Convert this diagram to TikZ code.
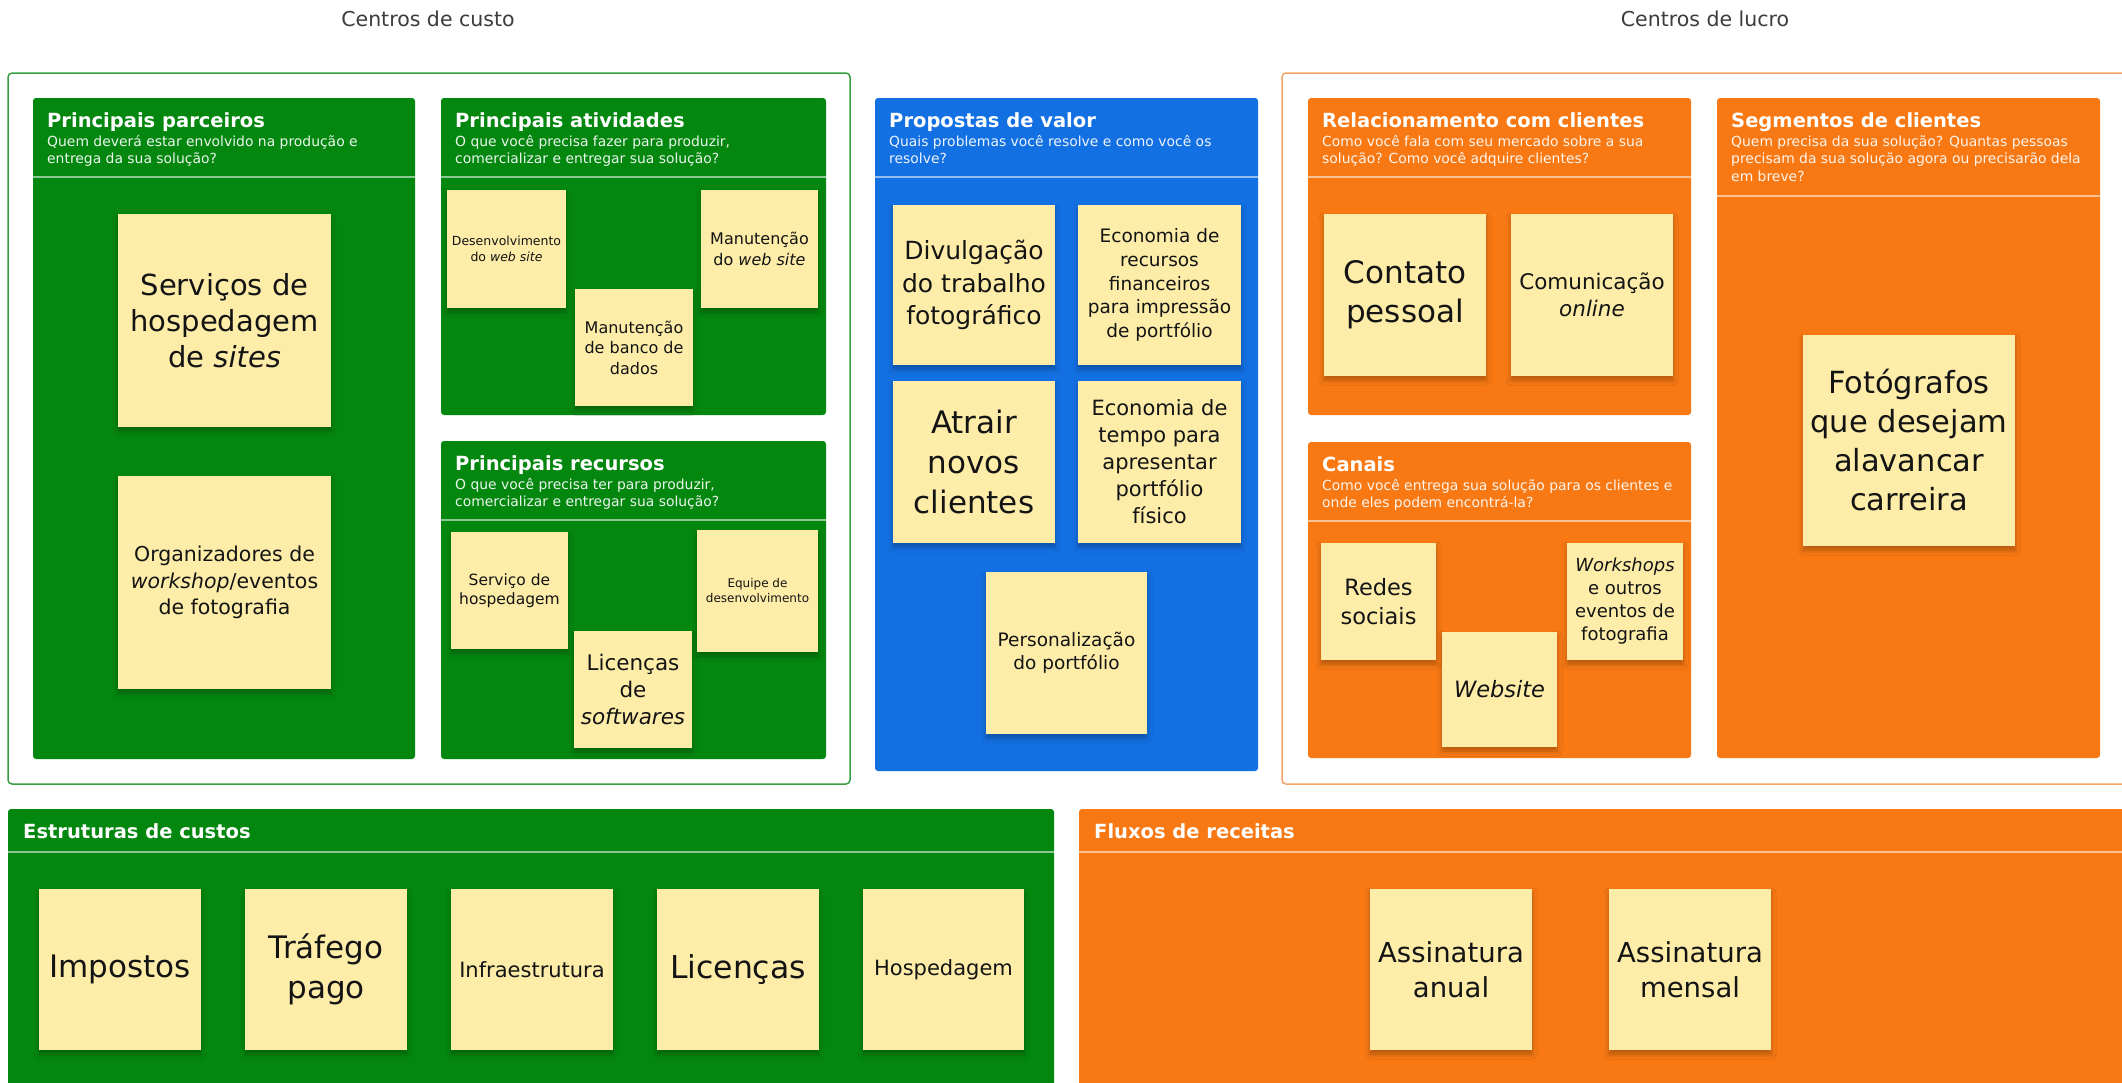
\documentclass[tikz,border=0pt]{standalone}
\usepackage{fontspec}
\setmainfont{DejaVu Sans}
\usetikzlibrary{shadows.blur}

\definecolor{cvgreen}{HTML}{04870F}
\definecolor{cvblue}{HTML}{1370E3}
\definecolor{cvorange}{HTML}{F87914}
\definecolor{noteyellow}{HTML}{FDEDA9}
\definecolor{greenline}{HTML}{3A9E44}
\definecolor{orangeline}{HTML}{F5A466}
\definecolor{labelgray}{HTML}{3C3C3C}

\tikzset{
  panel/.style={rounded corners=3pt},
  ptitle/.style={anchor=base west, inner sep=0pt, text=white,
    font=\fontsize{19.5}{23}\selectfont\bfseries},
  psub/.style={anchor=base west, inner sep=0pt, text=white, text opacity=0.92,
    font=\fontsize{13.9}{17}\selectfont},
  psep/.style={draw=white, draw opacity=0.55, line width=1.5pt},
  sticky/.style={fill=noteyellow, draw=none, inner sep=2pt, align=center,
    text=black!92,
    blur shadow={shadow xshift=0pt, shadow yshift=-4pt,
      shadow blur radius=5pt, shadow opacity=28}},
  grouplabel/.style={inner sep=0pt, text=labelgray,
    font=\fontsize{20.5}{24}\selectfont},
}

% sticky note: name, x1, y1, x2, y2, font size, line skip, text
\newcommand\stickynote[8]{%
  \node[sticky, font=\fontsize{#6}{#7}\selectfont,
    minimum width={(#4-#2)*1pt}, minimum height={(#5-#3)*1pt}]
    (#1) at ({(#2+#4)/2},{(#3+#5)/2}) {#8};}

\begin{document}
\begin{tikzpicture}[x=1pt, y=-1pt]
\clip (0,0) rectangle (2122,1082);
\fill[white] (0,0) rectangle (2122,1082);

% group labels
\node[grouplabel] (lblcost) at (428,19) {Centros de custo};
\node[grouplabel] (lblprofit) at (1705,19) {Centros de lucro};

% group outlines
\draw[greenline, line width=1.5pt, rounded corners=4pt] (8,73) rectangle (850,784);
\draw[orangeline, line width=1.5pt, rounded corners=4pt] (1282,73) rectangle (2160,784);

% ---------- Principais parceiros
\fill[cvgreen, panel] (33,98) rectangle (415,759);
\node[ptitle] (pp-t) at (47,127) {Principais parceiros};
\node[psub] (pp-s1) at (47,146) {Quem deverá estar envolvido na produção e};
\node[psub] (pp-s2) at (47,163.5) {entrega da sua solução?};
\draw[psep] (33,177) -- (415,177);
\stickynote{pp1}{118}{214}{331}{427}{29}{36}{Serviços de\\hospedagem\\de \textit{sites}}
\stickynote{pp2}{118}{476}{331}{689}{20.5}{26.5}{Organizadores de\\\textit{workshop}/eventos\\de fotografia}

% ---------- Principais atividades
\fill[cvgreen, panel] (441,98) rectangle (826,415);
\node[ptitle] (pa-t) at (455,127) {Principais atividades};
\node[psub] (pa-s1) at (455,146) {O que você precisa fazer para produzir,};
\node[psub] (pa-s2) at (455,163.5) {comercializar e entregar sua solução?};
\draw[psep] (441,177) -- (826,177);
\stickynote{pa1}{447}{190}{566}{308}{12.5}{16}{Desenvolvimento\\do \textit{web site}}
\stickynote{pa2}{575}{289}{693}{406}{16}{20.5}{Manutenção\\de banco de\\dados}
\stickynote{pa3}{701}{190}{818}{308}{16}{20.5}{Manutenção\\do \textit{web site}}

% ---------- Principais recursos
\fill[cvgreen, panel] (441,441) rectangle (826,759);
\node[ptitle] (pr-t) at (455,470) {Principais recursos};
\node[psub] (pr-s1) at (455,489) {O que você precisa ter para produzir,};
\node[psub] (pr-s2) at (455,506.5) {comercializar e entregar sua solução?};
\draw[psep] (441,520) -- (826,520);
\stickynote{pr1}{451}{532}{568}{649}{15.5}{19.5}{Serviço de\\hospedagem}
\stickynote{pr2}{574}{631}{692}{748}{21.5}{27}{Licenças\\de\\\textit{softwares}}
\stickynote{pr3}{697}{530}{818}{652}{12}{15}{Equipe de\\desenvolvimento}

% ---------- Propostas de valor
\fill[cvblue, panel] (875,98) rectangle (1258,771);
\node[ptitle] (pv-t) at (889,127) {Propostas de valor};
\node[psub] (pv-s1) at (889,146) {Quais problemas você resolve e como você os};
\node[psub] (pv-s2) at (889,163.5) {resolve?};
\draw[psep] (875,177) -- (1258,177);
\stickynote{pv1}{893}{205}{1055}{365}{25}{32.5}{Divulgação\\do trabalho\\fotográfico}
\stickynote{pv2}{1078}{205}{1241}{365}{18.5}{23.8}{Economia de\\recursos\\financeiros\\para impressão\\de portfólio}
\stickynote{pv3}{893}{381}{1055}{543}{31}{40}{Atrair\\novos\\clientes}
\stickynote{pv4}{1078}{381}{1241}{543}{21}{27}{Economia de\\tempo para\\apresentar\\portfólio\\físico}
\stickynote{pv5}{986}{572}{1147}{734}{18.5}{23}{Personalização\\do portfólio}

% ---------- Relacionamento com clientes
\fill[cvorange, panel] (1308,98) rectangle (1691,415);
\node[ptitle] (rc-t) at (1322,127) {Relacionamento com clientes};
\node[psub] (rc-s1) at (1322,146) {Como você fala com seu mercado sobre a sua};
\node[psub] (rc-s2) at (1322,163.5) {solução? Como você adquire clientes?};
\draw[psep] (1308,177) -- (1691,177);
\stickynote{rc1}{1324}{214}{1486}{376}{31}{39}{Contato\\pessoal}
\stickynote{rc2}{1511}{214}{1673}{376}{21.5}{26.5}{Comunicação\\\textit{online}}

% ---------- Segmentos de clientes
\fill[cvorange, panel] (1717,98) rectangle (2100,758);
\node[ptitle] (sc-t) at (1731,127) {Segmentos de clientes};
\node[psub] (sc-s1) at (1731,146) {Quem precisa da sua solução? Quantas pessoas};
\node[psub] (sc-s2) at (1731,163.5) {precisam da sua solução agora ou precisarão dela};
\node[psub] (sc-s3) at (1731,181) {em breve?};
\draw[psep] (1717,196) -- (2100,196);
\stickynote{sc1}{1803}{335}{2015}{546}{30.5}{39}{Fotógrafos\\que desejam\\alavancar\\carreira}

% ---------- Canais
\fill[cvorange, panel] (1308,442) rectangle (1691,758);
\node[ptitle] (ch-t) at (1322,471) {Canais};
\node[psub] (ch-s1) at (1322,490) {Como você entrega sua solução para os clientes e};
\node[psub] (ch-s2) at (1322,507.5) {onde eles podem encontrá-la?};
\draw[psep] (1308,521) -- (1691,521);
\stickynote{ch1}{1321}{543}{1436}{660}{22.5}{28.5}{Redes\\sociais}
\stickynote{ch2}{1442}{632}{1557}{747}{22.5}{28}{\textit{Website}}
\stickynote{ch3}{1567}{543}{1683}{660}{18}{23}{\textit{Workshops}\\e outros\\eventos de\\fotografia}

% ---------- Estruturas de custos
\fill[cvgreen, panel] (8,809) rectangle (1054,1100);
\node[ptitle] (cs-t) at (23,838) {Estruturas de custos};
\draw[psep] (8,852) -- (1054,852);
\stickynote{cs1}{39}{889}{201}{1050}{31}{40}{Impostos}
\stickynote{cs2}{245}{889}{407}{1050}{31}{40}{Tráfego\\pago}
\stickynote{cs3}{451}{889}{613}{1050}{21}{26}{Infraestrutura}
\stickynote{cs4}{657}{889}{819}{1050}{31.5}{40}{Licenças}
\stickynote{cs5}{863}{889}{1024}{1050}{21}{26}{Hospedagem}

% ---------- Fluxos de receitas
\fill[cvorange, panel] (1079,809) rectangle (2160,1100);
\node[ptitle] (rs-t) at (1094,838) {Fluxos de receitas};
\draw[psep] (1079,852) -- (2160,852);
\stickynote{rs1}{1370}{889}{1532}{1050}{27.5}{35}{Assinatura\\anual}
\stickynote{rs2}{1609}{889}{1771}{1050}{27.5}{35}{Assinatura\\mensal}
\end{tikzpicture}
\end{document}
